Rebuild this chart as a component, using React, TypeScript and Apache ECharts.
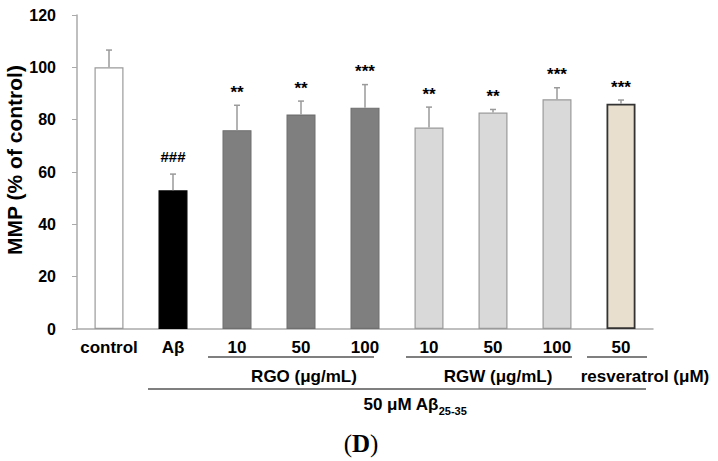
import React, { useEffect, useRef } from "react";
import * as echarts from "echarts";

const categories = ["control", "Aβ", "10", "50", "100", "10", "50", "100", "50"];
const means = [100, 53, 76, 82, 84.6, 77, 82.7, 87.8, 86.1];
const sds = [6.6, 6.2, 9.5, 5.1, 8.8, 7.8, 1.2, 4.4, 1.4];
const marks = ["", "###", "**", "**", "***", "**", "**", "***", "***"];
const yTicks = [0, 20, 40, 60, 80, 100, 120];

const barFills = ["#ffffff", "#000000", "#7f7f7f", "#7f7f7f", "#7f7f7f", "#d9d9d9", "#d9d9d9", "#d9d9d9", "#e9dfcf"];
const barBorders = ["#9a9a9a", "#000000", "#6f6f6f", "#6f6f6f", "#6f6f6f", "#9a9a9a", "#9a9a9a", "#9a9a9a", "#333333"];

const FONT = "'Liberation Sans', Arial, sans-serif";
const SERIF = "'Liberation Serif', 'Times New Roman', serif";

export default function App() {
  const ref = useRef<HTMLDivElement>(null);
  useEffect(() => {
    if (!ref.current) return;
    const chart = echarts.init(ref.current, undefined, { renderer: "svg" });
    const lineStyle = { stroke: "#555", lineWidth: 1.5 };
    const option: any = {
      animation: false,
      backgroundColor: "#ffffff",
      grid: { left: 77, right: 65, top: 15, bottom: 132, containLabel: false },
      xAxis: {
        type: "category",
        data: categories,
        axisLine: { lineStyle: { color: "#aaaaaa", width: 1.5 } },
        axisTick: { show: false },
        axisLabel: { color: "#000", fontWeight: "bold", fontSize: 17, fontFamily: FONT, margin: 10, interval: 0 },
      },
      yAxis: {
        type: "value",
        min: yTicks[0],
        max: yTicks[yTicks.length - 1],
        interval: 20,
        axisLine: { show: true, lineStyle: { color: "#aaaaaa", width: 1.5 } },
        axisTick: { show: true, inside: false, length: 5, lineStyle: { color: "#aaaaaa", width: 1 } },
        splitLine: { show: false },
        axisLabel: { color: "#000", fontWeight: "bold", fontSize: 16, fontFamily: FONT, margin: 21 },
      },
      series: [
        {
          type: "bar",
          barWidth: 29,
          data: means.map((m, i) => ({
            value: m,
            itemStyle: { color: barFills[i], borderColor: barBorders[i], borderWidth: i === 8 ? 1.8 : 1.2 },
          })),
        },
        {
          type: "custom",
          z: 5,
          data: means.map((m, i) => [i, m, m + sds[i]]),
          renderItem: (params: any, api: any) => {
            const idx = api.value(0);
            const p0 = api.coord([idx, api.value(1)]);
            const p1 = api.coord([idx, api.value(2)]);
            const x = p0[0];
            const mark = marks[params.dataIndex];
            const isHash = mark.indexOf("#") >= 0;
            const children: any[] = [
              { type: "line", shape: { x1: x, y1: p0[1], x2: x, y2: p1[1] }, style: { stroke: "#9a9a9a", lineWidth: 1.5 } },
              { type: "line", shape: { x1: x - 3, y1: p1[1], x2: x + 3, y2: p1[1] }, style: { stroke: "#9a9a9a", lineWidth: 1.5 } },
            ];
            if (mark) {
              children.push({
                type: "text",
                style: {
                  text: mark,
                  x: x,
                  y: isHash ? p1[1] - 18 : p1[1] - 13,
                  align: "center",
                  verticalAlign: "middle",
                  fontSize: isHash ? 15 : 17,
                  fontWeight: "bold",
                  fontFamily: FONT,
                  fill: "#000",
                },
              });
            }
            return { type: "group", children };
          },
        },
      ],
      graphic: [
        {
          type: "text",
          x: 14,
          y: 160,
          rotation: Math.PI / 2,
          style: {
            text: "MMP (% of control)",
            align: "center",
            verticalAlign: "middle",
            fontSize: 21,
            fontWeight: "bold",
            fontFamily: FONT,
            fill: "#000",
          },
        },
        { type: "line", shape: { x1: 208, y1: 357, x2: 374, y2: 357 }, style: lineStyle },
        { type: "line", shape: { x1: 406, y1: 357, x2: 572, y2: 357 }, style: lineStyle },
        { type: "line", shape: { x1: 587, y1: 357, x2: 647, y2: 357 }, style: lineStyle },
        { type: "line", shape: { x1: 148, y1: 389, x2: 646, y2: 389 }, style: lineStyle },
        {
          type: "text", x: 304, y: 376,
          style: { text: "RGO (μg/mL)", align: "center", verticalAlign: "middle", fontSize: 17, fontWeight: "bold", fontFamily: FONT, fill: "#000" },
        },
        {
          type: "text", x: 498, y: 376,
          style: { text: "RGW (μg/mL)", align: "center", verticalAlign: "middle", fontSize: 17, fontWeight: "bold", fontFamily: FONT, fill: "#000" },
        },
        {
          type: "text", x: 645, y: 376,
          style: { text: "resveratrol (μM)", align: "center", verticalAlign: "middle", fontSize: 17, fontWeight: "bold", fontFamily: FONT, fill: "#000" },
        },
        {
          type: "text", x: 415, y: 404,
          style: {
            text: "{a|50 μM Aβ}{s|25-35}",
            align: "center",
            verticalAlign: "middle",
            fill: "#000",
            rich: {
              a: { fontSize: 17, fontWeight: "bold", fontFamily: FONT, lineHeight: 24, fill: "#000" },
              s: { fontSize: 11, fontWeight: "bold", fontFamily: FONT, lineHeight: 12, verticalAlign: "bottom", fill: "#000" },
            },
          },
        },
        {
          type: "text", x: 361, y: 443,
          style: {
            text: "{p|(}{d|D}{p|)}",
            align: "center",
            verticalAlign: "middle",
            fill: "#000",
            rich: {
              p: { fontSize: 25, fontFamily: SERIF, fill: "#000" },
              d: { fontSize: 25, fontWeight: "bold", fontFamily: SERIF, fill: "#000" },
            },
          },
        },
      ],
    };
    chart.setOption(option);
    return () => chart.dispose();
  }, []);
  return (
    <div
      ref={ref}
      style={{ position: "fixed", left: 0, top: 0, width: 718, height: 461, background: "#fff" }}
    />
  );
}
